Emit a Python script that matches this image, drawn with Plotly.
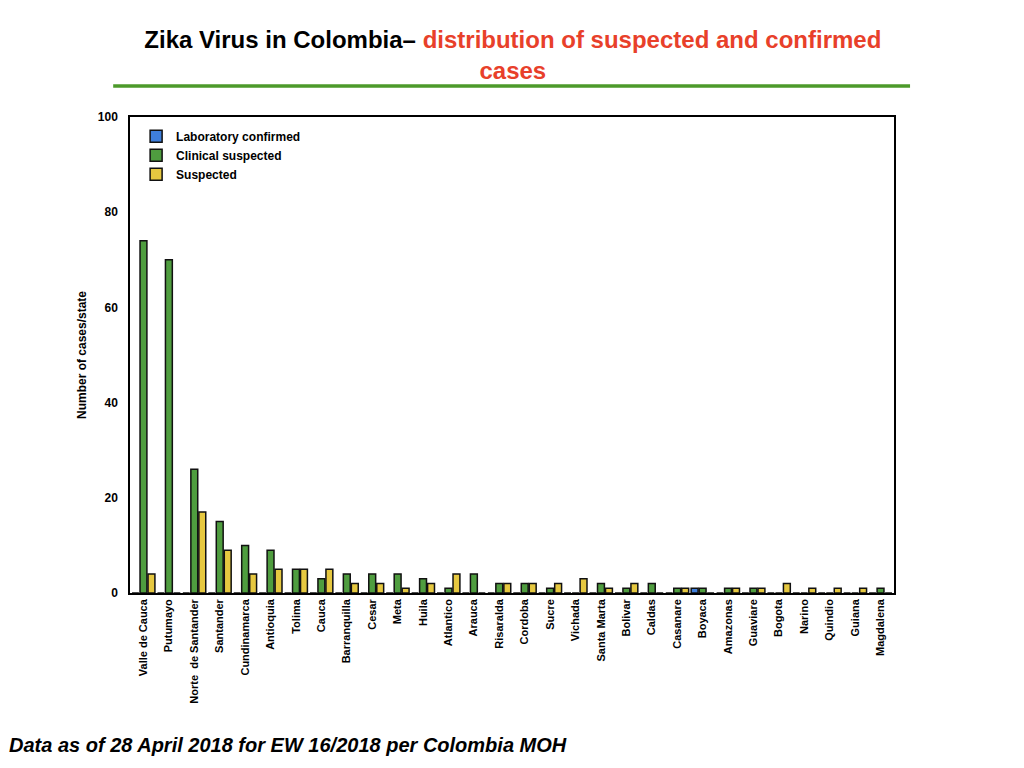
import plotly.graph_objects as go

states = [
    "Valle de Cauca", "Putumayo", "Norte  de Santander", "Santander", "Cundinamarca",
    "Antioquia", "Tolima", "Cauca", "Barranquilla", "Cesar", "Meta", "Huila",
    "Atlantico", "Arauca", "Risaralda", "Cordoba", "Sucre", "Vichada", "Santa Marta",
    "Bolivar", "Caldas", "Casanare", "Boyaca", "Amazonas", "Guaviare", "Bogota",
    "Narino", "Quindio", "Guiana", "Magdalena",
]
lab_confirmed = [0, 0, 0, 0, 0, 0, 0, 0, 0, 0, 0, 0, 0, 0, 0,
                 0, 0, 0, 0, 0, 0, 0, 1, 0, 0, 0, 0, 0, 0, 0]
clinical_suspected = [74, 70, 26, 15, 10, 9, 5, 3, 4, 4, 4, 3, 1, 4, 2,
                      2, 1, 0, 2, 1, 2, 1, 1, 1, 1, 0, 0, 0, 0, 1]
suspected = [4, 0, 17, 9, 4, 5, 5, 5, 2, 2, 1, 2, 4, 0, 2,
             2, 2, 3, 1, 2, 0, 1, 0, 1, 1, 2, 1, 1, 1, 0]

FONT = "Arial, Liberation Sans, sans-serif"
outline = dict(color="#111111", width=1.5)

fig = go.Figure()
fig.add_trace(go.Bar(x=states, y=lab_confirmed, name="Laboratory confirmed",
                     marker=dict(color="#3f7fdc", line=outline)))
fig.add_trace(go.Bar(x=states, y=clinical_suspected, name="Clinical suspected",
                     marker=dict(color="#4f9d3f", line=outline)))
fig.add_trace(go.Bar(x=states, y=suspected, name="Suspected",
                     marker=dict(color="#e6c840", line=outline)))

fig.update_layout(
    width=1024, height=768,
    paper_bgcolor="white", plot_bgcolor="white",
    margin=dict(l=122, r=138, t=109, b=183),
    barmode="group", bargap=0.055, bargroupgap=0.14,
    font=dict(family=FONT, color="black"),
    showlegend=True,
    legend=dict(x=0.008, y=0.99, xanchor="left", yanchor="top",
                bgcolor="rgba(0,0,0,0)", traceorder="normal", itemwidth=30,
                font=dict(size=12, weight="bold", family=FONT)),
    title=dict(
        text=("Zika Virus in Colombia\u2013 "
              "<span style='color:#e8402a'>distribution of suspected and confirmed"
              "<br>cases</span>"),
        x=0.493, xanchor="center", y=0.948, yanchor="top",
        font=dict(size=24, weight="bold", family=FONT, color="black"),
    ),
)

fig.update_xaxes(
    range=[-0.53, 29.53], showline=True, linecolor="black", linewidth=1.5,
    mirror=True, ticks="", tickangle=-90,
    tickfont=dict(size=11, weight="bold", family=FONT),
)
fig.update_yaxes(
    range=[0, 100], tickvals=[0, 20, 40, 60, 80, 100],
    showline=True, linecolor="black", linewidth=1.5, mirror=True,
    showgrid=False, zeroline=False, ticks="", ticklabelstandoff=8,
    tickfont=dict(size=12, weight="bold", family=FONT),
    title=dict(text="Number of cases/state", standoff=9,
               font=dict(size=12, weight="bold", family=FONT)),
)

# green rule under the title
fig.add_shape(type="line", xref="paper", yref="paper",
              x0=-0.022, x1=1.021, y0=1.065, y1=1.065,
              line=dict(color="#4c9a2a", width=3.5))

fig.add_annotation(
    text="Data as of 28 April 2018 for EW 16/2018 per Colombia MOH",
    xref="paper", yref="paper", x=-0.161, y=-0.319,
    xanchor="left", yanchor="middle", showarrow=False,
    font=dict(size=20, weight="bold", style="italic", family=FONT, color="black"),
)

fig.write_html("out.html")
